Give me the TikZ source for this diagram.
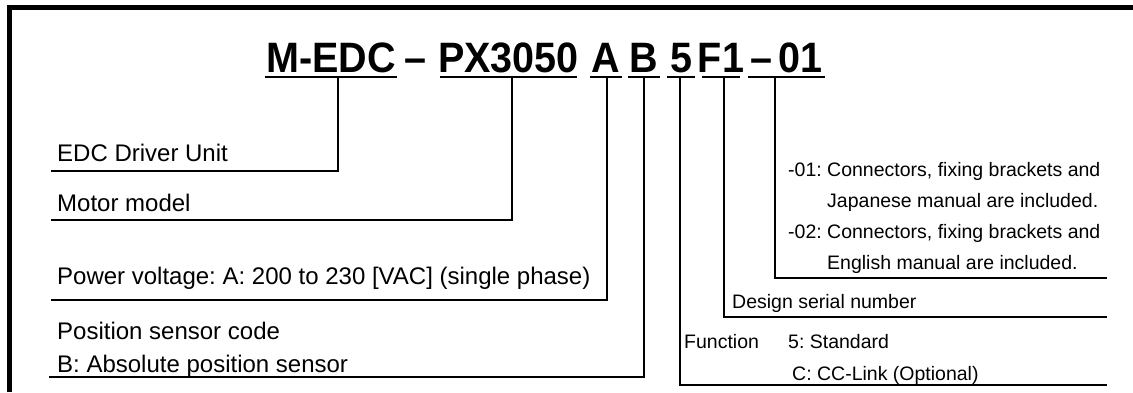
\documentclass[tikz,border=0pt]{standalone}
\usepackage{fontspec}
\setmainfont{Liberation Sans}
\usetikzlibrary{positioning}
\frenchspacing
\newcommand{\codefont}{\fontsize{42.5}{44}\selectfont\bfseries}
\newcommand{\tok}[1]{\scalebox{0.93}[1]{#1}}
\newcommand{\lblfont}{\fontsize{24}{33}\selectfont}
\newcommand{\notefont}{\fontsize{19.5}{31}\selectfont}
\tikzset{
    frame/.style={line width=5pt, line join=miter},
    code/.style={font=\codefont, inner sep=0pt, anchor=base},
    tokline/.style={line width=2.2pt},
    lead/.style={line width=1.3pt},
    lbl/.style={font=\lblfont, inner xsep=6pt, inner ysep=0pt, anchor=base west, align=left},
    note/.style={font=\notefont, inner sep=0pt, anchor=base west, align=left}
}
\begin{document}
\begin{tikzpicture}[x=1pt,y=-1pt]
\useasboundingbox (0,0) rectangle (1133,392);
\draw[frame] (9.5,392) -- (9.5,7.5) -- (1133,7.5);

% model code
\node[code] (edc) at (331,72) {\tok{M-EDC}};
\node[code] (dash) at (415,72) {\tok{–}};
\node[code] (motor) at (508.5,72) {\tok{PX3050}};
\node[code] (volt) at (606,72) {\tok{A}};
\node[code] (sens) at (644,72) {\tok{B}};
\node[code] (func) at (681,72) {\tok{5}};
\node[code] (ser) at (721,72) {\tok{F1}};
\node[code] (acc) at (786.5,72) {\tok{–\hspace{0.15em}01}};
\foreach \t/\w in {edc/66,motor/68.5,volt/16,sens/16,func/14,ser/19,acc/38.5}
    \draw[tokline] (\t.base) ++(-\w,5) -- ++(2*\w,0);

% lead points on the underlines
\path (338,77) coordinate (tEdc) (512,77) coordinate (tMotor)
      (607,77) coordinate (tVolt) (644,77) coordinate (tSens)
      (680,77) coordinate (tFunc) (724,77) coordinate (tSer)
      (775,77) coordinate (tAcc);

% left side
\node[lbl] (lEdc) at (51,161) {EDC Driver Unit};
\node[lbl] (lMotor) at (51,211) {Motor model};
\node[lbl] (lVolt) at (51,284) {Power voltage: A: 200 to 230 [VAC] (single phase)};
\node[lbl] (lSens) at (51,372) {Position sensor code\\B: Absolute position sensor};
\draw[lead] (tEdc) |- (lEdc.west |- 0,171);
\draw[lead] (tMotor) |- (lMotor.west |- 0,220);
\draw[lead] (tVolt) |- (lVolt.west |- 0,300);
\draw[lead] (tSens) |- ([xshift=-2pt]lSens.west |- 0,377);

% right side
\path (1107,278) coordinate (rAcc) (1107,317) coordinate (rSer)
      (1107,385) coordinate (rFunc);
\node[note] (lAcc) at (788,269) {-01: Connectors, fixing brackets and\\\phantom{-01: }Japanese manual are included.\\-02: Connectors, fixing brackets and\\\phantom{-02: }English manual are included.};
\node[note] (lSer) at (732,308) {Design serial number};
\node[note] (lFunc) at (684,348) {Function};
\node[note, font=\fontsize{19.5}{32}\selectfont] (lFuncOpt) at (788,380) {5: Standard\\\hspace*{4pt}C: CC-Link (Optional)};
\draw[lead] (tAcc) |- (rAcc);
\draw[lead] (tSer) |- (rSer);
\draw[lead] (tFunc) |- (rFunc);
\end{tikzpicture}
\end{document}
